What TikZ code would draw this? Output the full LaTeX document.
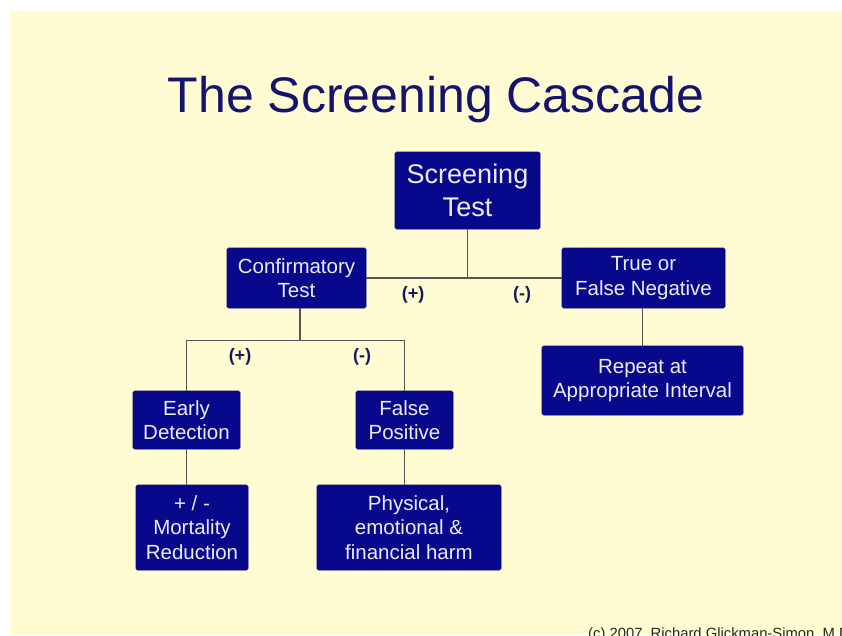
\documentclass[tikz,border=0pt]{standalone}
\usepackage{fontspec}
\setmainfont{Liberation Sans}
\usetikzlibrary{calc}
\definecolor{bgyellow}{RGB}{255,251,210}
\definecolor{boxblue}{RGB}{8,8,140}
\definecolor{boxtext}{RGB}{236,236,248}
\definecolor{titleblue}{RGB}{20,20,110}
\definecolor{linegrey}{RGB}{85,85,85}
\definecolor{signblue}{RGB}{25,25,90}
\begin{document}
\begin{tikzpicture}[x=1pt,y=-1pt,
  bluebox/.style={rectangle, rounded corners=1.5pt, fill=boxblue, draw=boxblue!80!black,
    line width=0.6pt, text=boxtext, align=center, inner sep=0pt,
    font=\fontsize{20.5}{24.6}\selectfont},
  conn/.style={draw=linegrey, line width=1.2pt},
  signlabel/.style={text=signblue, font=\bfseries\fontsize{18}{20}\selectfont, inner sep=0pt}]
\clip (0,0) rectangle (842,635);
\fill[white] (0,0) rectangle (842,635);
\fill[bgyellow] (10,11) rectangle (842,635);

\node[text=titleblue, font=\fontsize{50}{56}\selectfont, anchor=base, inner sep=0pt] (title) at (436,112) {The Screening Cascade};

\node[bluebox, minimum width=145pt, minimum height=77pt, font=\fontsize{27}{32.4}\selectfont] (scr) at (467.5,190.5) {Screening\\Test};
\node[bluebox, minimum width=139pt, minimum height=60pt] (conf) at (296.5,278) {Confirmatory\\Test};
\node[bluebox, minimum width=163pt, minimum height=60pt] (tfn) at (643.5,278) {True or\\False Negative};
\node[bluebox, minimum width=107pt, minimum height=58pt] (early) at (186.5,420) {Early\\Detection};
\node[bluebox, minimum width=97pt, minimum height=58pt] (fpos) at (404.5,420) {False\\Positive};
\node[bluebox, minimum width=112pt, minimum height=85pt] (mort) at (192,527.5) {+ / -\\Mortality\\Reduction};
\node[bluebox, minimum width=184pt, minimum height=85pt] (phys) at (409,527.5) {Physical,\\emotional \&\\financial harm};
\node[bluebox, minimum width=201pt, minimum height=69pt] (rep) at (642.5,380.5) {Repeat at\\Appropriate Interval};

% connectors
\coordinate (j1) at (scr.south |- conf.east);
\draw[conn] (conf.east) -- (tfn.west);
\draw[conn] (scr.south) -- (j1);
\coordinate (j2) at ($(conf.south)+(3.5,32)$);
\draw[conn] (conf.south -| j2) -- (j2);
\draw[conn] (early.north) |- (j2) -| (fpos.north);
\draw[conn] (early.south) -- (early.south |- mort.north);
\draw[conn] (fpos.south) -- (fpos.south |- phys.north);
\draw[conn] (tfn.south -| rep.north) -- (rep.north);

% sign labels
\node[signlabel] (p1) at (413,295) {(+)};
\node[signlabel] (m1) at (522,295) {(-)};
\node[signlabel] (p2) at (240,357) {(+)};
\node[signlabel] (m2) at (362,357) {(-)};

\node[text=black!85, font=\fontsize{14.8}{16}\selectfont, anchor=base west, inner sep=0pt] (copy) at (588,638.5) {(c) 2007, Richard Glickman-Simon, M.D.};
\end{tikzpicture}
\end{document}
